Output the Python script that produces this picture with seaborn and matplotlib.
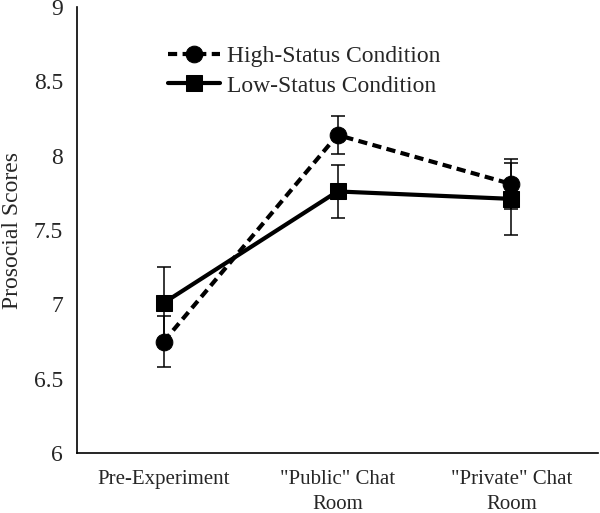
import pandas as pd
import matplotlib
matplotlib.use("Agg")
import matplotlib.pyplot as plt
import seaborn as sns

# -----------------------------
# Data
# -----------------------------
phases = ["Pre-Experiment", "\"Public\" Chat\nRoom", "\"Private\" Chat\nRoom"]
conditions = ["High-Status Condition", "Low-Status Condition"]
high_means = [6.75, 8.14, 7.81]
high_err = [0.17, 0.13, 0.17]
low_means = [7.01, 7.76, 7.71]
low_err = [0.24, 0.18, 0.24]

df = pd.DataFrame({
    "phase": list(range(3)) * 2,
    "score": high_means + low_means,
    "err": high_err + low_err,
    "condition": [conditions[0]] * 3 + [conditions[1]] * 3,
})

# -----------------------------
# Plot
# -----------------------------
sns.set_theme(style="white")
plt.rcParams["font.family"] = ["Liberation Serif", "DejaVu Serif"]

fig = plt.figure(figsize=(6, 5.13), dpi=100)
ax = fig.add_axes([0.128, 0.117, 0.869, 0.869])

for cond, sub in df.groupby("condition"):
    ax.errorbar(sub["phase"], sub["score"], yerr=sub["err"], fmt="none",
                ecolor="black", elinewidth=1.1, capsize=5, capthick=1.1, zorder=1)

sns.lineplot(data=df, x="phase", y="score", style="condition",
             style_order=conditions, markers={conditions[0]: "o", conditions[1]: "s"},
             dashes={conditions[0]: (2.2, 1.3), conditions[1]: ""},
             color="black", linewidth=3, markersize=12, markeredgecolor="black",
             ax=ax, zorder=3)

ax.set_xlim(-0.5, 2.5)
ax.set_ylim(6, 9)
ax.set_yticks([6, 6.5, 7, 7.5, 8, 8.5, 9])
ax.set_yticklabels(["6", "6.5", "7", "7.5", "8", "8.5", "9"], fontsize=17)
ax.set_xticks([0, 1, 2])
ax.set_xticklabels(phases, fontsize=15, linespacing=1.45)
ax.set_xticks([0.5, 1.5, 2.5], minor=True)
ax.tick_params(axis="x", which="major", length=0, pad=12)
ax.tick_params(axis="x", which="minor", length=6, width=1.2, color="black", direction="out")
ax.tick_params(axis="y", length=6, width=1.2, color="black", direction="out", pad=4)
ax.set_xlabel("")
ax.set_ylabel("Prosocial Scores", fontsize=17, labelpad=8)

for s in ["top", "right"]:
    ax.spines[s].set_visible(False)
for s in ["left", "bottom"]:
    ax.spines[s].set_color("black")
    ax.spines[s].set_linewidth(1.2)

leg = ax.legend(loc="upper left", bbox_to_anchor=(0.135, 0.962), frameon=False,
                fontsize=17, handlelength=2.2, handletextpad=0.3, labelspacing=0.35,
                title=None)

fig.savefig("out.png", dpi=100)
